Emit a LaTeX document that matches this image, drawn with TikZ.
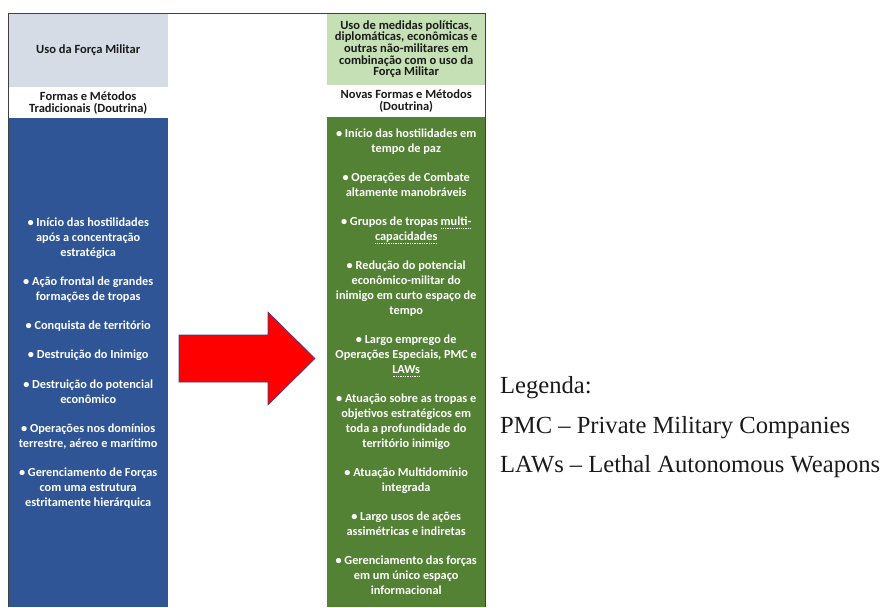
\documentclass[tikz,border=0pt]{standalone}
\usepackage{fontspec}
\setmainfont{Liberation Serif}
\newfontfamily\carl{Carlito}
\newsavebox\myulbox
\newcommand\myul[1]{\sbox\myulbox{#1}\leavevmode\rlap{\raisebox{-2.6pt}{\hbox to\wd\myulbox{\xleaders\hbox to 1.7pt{\hss\rule{0.85pt}{0.75pt}\hss}\hfil}}}\usebox\myulbox}
\definecolor{greyhdr}{HTML}{D6DCE5}
\definecolor{bluebody}{HTML}{2F5597}
\definecolor{greenhdr}{HTML}{C5E0B4}
\definecolor{greenbody}{HTML}{548235}
\definecolor{edge}{HTML}{404040}
\definecolor{arrowred}{HTML}{FF0000}
\definecolor{arrowedge}{HTML}{3A3F8F}
\definecolor{ink}{HTML}{1A1A1A}
\tikzset{
  cell/.style={anchor=north west, inner sep=0pt, align=center, text=ink},
  hdrfont/.style={font={\carl\bfseries\fontsize{12.5}{12}\selectfont}},
  bodyfont/.style={font={\carl\bfseries\fontsize{12.3}{15}\selectfont}, text=white},
  legend/.style={anchor=base west, inner sep=0pt, text=ink, font={\fontsize{24.6}{28}\selectfont}},
  border/.style={draw=edge, line width=0.9pt},
  bigarrow/.style={fill=arrowred, draw=arrowedge, line width=0.6pt, line join=miter}
}
\begin{document}
\begin{tikzpicture}[x=1pt,y=-1pt]
\useasboundingbox (0,0) rectangle (885,607);
% left column
\node[cell, hdrfont, fill=greyhdr, minimum width=160pt, minimum height=74pt] (lh) at (8,13) {Uso da Força Militar};
\node[cell, hdrfont, fill=white, minimum width=160pt, minimum height=31pt] (lsub) at (8,87) {Formas e Métodos\\Tradicionais (Doutrina)};
\node[cell, bodyfont, fill=bluebody, minimum width=160pt, minimum height=489pt] (lbody) at (8,118) {%
• Início das hostilidades\\após a concentração\\estratégica\\[14pt]
• Ação frontal de grandes\\formações de tropas\\[14pt]
• Conquista de território\\[14pt]
• Destruição do Inimigo\\[15pt]
• Destruição do potencial\\econômico\\[14pt]
• Operações nos domínios\\terrestre, aéreo e marítimo\\[14pt]
• Gerenciamento de Forças\\com uma estrutura\\estritamente hierárquica};
% right column
\node[cell, fill=greenhdr, minimum width=158pt, minimum height=72pt, font={\carl\bfseries\fontsize{12.5}{11.7}\selectfont}] (rh) at (327,13) {Uso de medidas políticas,\\diplomáticas, econômicas e\\outras não-militares em\\combinação com o uso da\\Força Militar};
\node[cell, hdrfont, fill=white, minimum width=158pt, minimum height=32pt] (rsub) at (327,85) {Novas Formas e Métodos\\(Doutrina)};
\node[cell, bodyfont, fill=greenbody, minimum width=158pt, minimum height=490pt] (rbody) at (327,117) {%
• Início das hostilidades em\\tempo de paz\\[14pt]
• Operações de Combate\\altamente manobráveis\\[14pt]
• Grupos de tropas \myul{multi-}\\\myul{capacidades}\\[14pt]
• Redução do potencial\\econômico-militar do\\inimigo em curto espaço de\\tempo\\[14pt]
• Largo emprego de\\Operações Especiais, PMC e\\\myul{LAWs}\\[14pt]
• Atuação sobre as tropas e\\objetivos estratégicos em\\toda a profundidade do\\território inimigo\\[14pt]
• Atuação Multidomínio\\integrada\\[14pt]
• Largo usos de ações\\assimétricas e indiretas\\[14pt]
• Gerenciamento das forças\\em um único espaço\\informacional};
% table borders
\draw[border] (lbody.south west) -- (lh.north west) -- (rh.north east) -- (rbody.south east);
% arrow
\draw[bigarrow] (179,335) -- (268,335) -- (268,312) -- (315,358.5) -- (268,405) -- (268,382) -- (179,382) -- cycle;
% legend
\node[legend] (lg1) at (500,393) {Legenda:};
\node[legend] (lg2) at (500,433) {PMC – Private Military Companies};
\node[legend] (lg3) at (500,472) {LAWs – Lethal Autonomous Weapons};
\end{tikzpicture}
\end{document}
